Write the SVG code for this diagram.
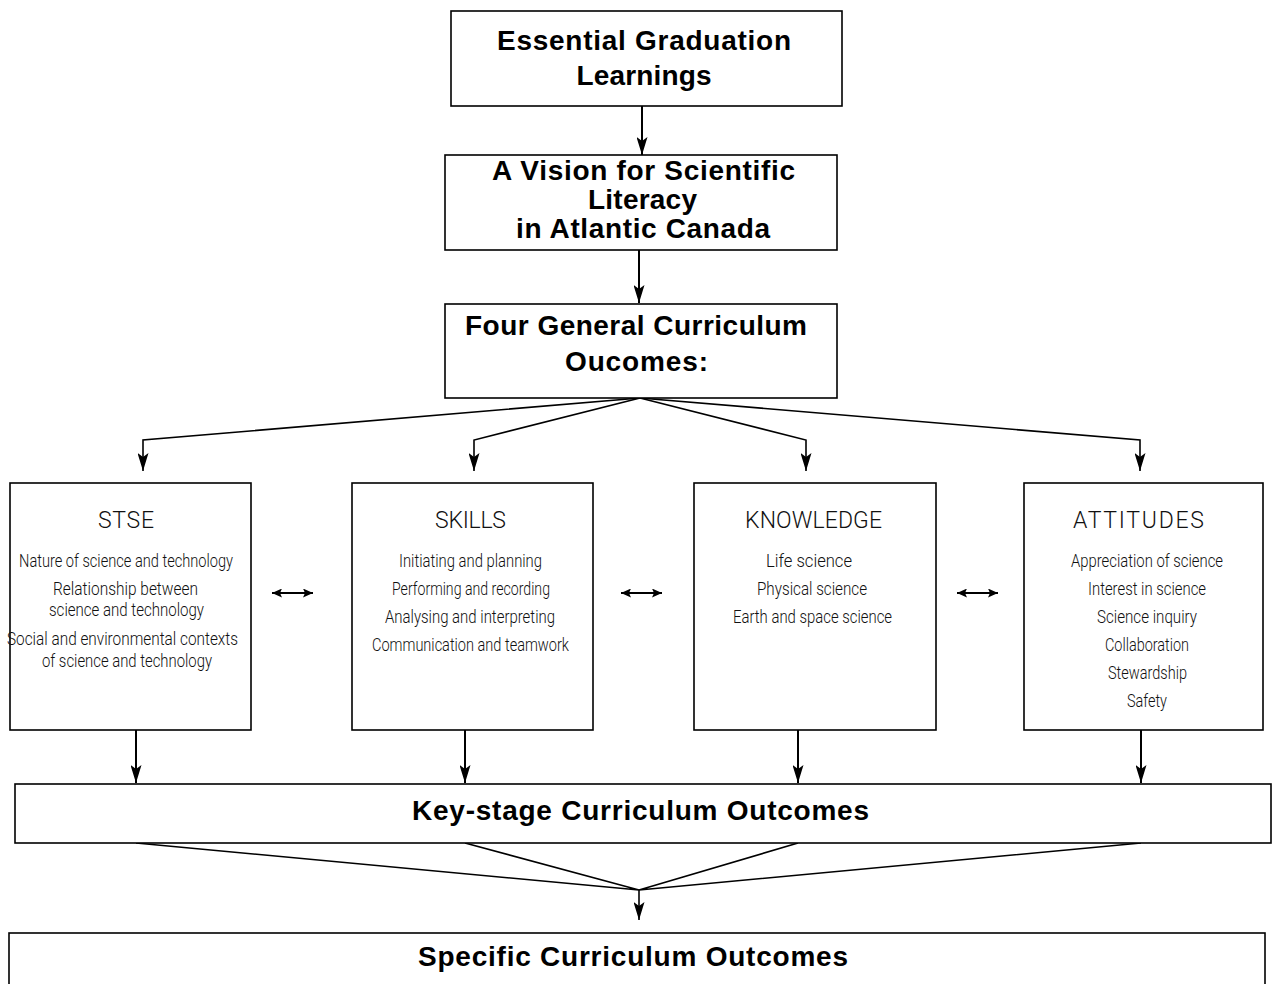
<svg xmlns="http://www.w3.org/2000/svg" width="1272" height="984" viewBox="0 0 1272 984">
<style>
.box{fill:#fff;stroke:#000;stroke-width:1.6}
.ln{fill:none;stroke:#000;stroke-width:1.6}
.va{fill:none;stroke:#000;stroke-width:2}
.h{font-family:"Liberation Sans",Arial,sans-serif;font-weight:bold;font-size:28px;text-anchor:middle;fill:#000}
.t{font-family:Roboto,"Liberation Sans",sans-serif;font-weight:300;font-size:23px;text-anchor:middle;fill:#111}
.i{font-family:Roboto,"Liberation Sans",sans-serif;font-weight:300;font-size:19px;text-anchor:middle;fill:#111}
</style>
<defs>
<marker id="ah" viewBox="0 0 18 11" refX="18" refY="5.5" markerWidth="18" markerHeight="11" markerUnits="userSpaceOnUse" orient="auto">
<path d="M0,0 L18,5.5 L0,11 L4,5.5 Z" fill="#000"/>
</marker>
<marker id="sh" viewBox="0 0 10 9" refX="10" refY="4.5" markerWidth="10" markerHeight="9" markerUnits="userSpaceOnUse" orient="auto-start-reverse">
<path d="M0,0 L10,4.5 L0,9 L2,4.5 Z" fill="#000"/>
</marker>
</defs>
<g id="connectors">
<line class="va" x1="642" y1="106" x2="642" y2="155" marker-end="url(#ah)"/>
<line class="va" x1="639" y1="250" x2="639" y2="303" marker-end="url(#ah)"/>
<polyline class="ln" points="640,398 143,440 143,471" marker-end="url(#ah)"/>
<polyline class="ln" points="640,398 474,440 474,471" marker-end="url(#ah)"/>
<polyline class="ln" points="640,398 806,440 806,471" marker-end="url(#ah)"/>
<polyline class="ln" points="640,398 1140,440 1140,471" marker-end="url(#ah)"/>
<line class="va" x1="136" y1="730" x2="136" y2="783" marker-end="url(#ah)"/>
<line class="va" x1="465" y1="730" x2="465" y2="783" marker-end="url(#ah)"/>
<line class="va" x1="798" y1="730" x2="798" y2="783" marker-end="url(#ah)"/>
<line class="va" x1="1141" y1="730" x2="1141" y2="783" marker-end="url(#ah)"/>
<polyline class="ln" points="136,843 639,890 465,843"/>
<polyline class="ln" points="798,843 639,890 1141,843"/>
<line class="ln" x1="639" y1="890" x2="639" y2="920" marker-end="url(#ah)"/>
<line class="va" x1="272" y1="593" x2="313" y2="593" marker-start="url(#sh)" marker-end="url(#sh)"/>
<line class="va" x1="621" y1="593" x2="662" y2="593" marker-start="url(#sh)" marker-end="url(#sh)"/>
<line class="va" x1="957" y1="593" x2="998" y2="593" marker-start="url(#sh)" marker-end="url(#sh)"/>
</g>
<g id="egl">
<rect class="box" x="451" y="11" width="391" height="95"/>
<text class="h" x="644" y="50" textLength="294" lengthAdjust="spacing">Essential Graduation</text>
<text class="h" x="644" y="85" textLength="135" lengthAdjust="spacing">Learnings</text>
</g>
<g id="vision">
<rect class="box" x="445" y="155" width="392" height="95"/>
<text class="h" x="643.5" y="180" textLength="303" lengthAdjust="spacing">A Vision for Scientific</text>
<text class="h" x="642.5" y="209" textLength="109" lengthAdjust="spacing">Literacy</text>
<text class="h" x="643" y="238" textLength="254" lengthAdjust="spacing">in Atlantic Canada</text>
</g>
<g id="gco">
<rect class="box" x="445" y="304" width="392" height="94"/>
<text class="h" x="636" y="335" textLength="342" lengthAdjust="spacing">Four General Curriculum</text>
<text class="h" x="636.5" y="371" textLength="143" lengthAdjust="spacing">Oucomes:</text>
</g>
<g id="stse">
<rect class="box" x="10" y="483" width="241" height="247"/>
<text class="t" x="126" y="528" textLength="56" lengthAdjust="spacing">STSE</text>
<text class="i" x="126" y="567" textLength="214" lengthAdjust="spacingAndGlyphs">Nature of science and technology</text>
<text class="i" x="125.5" y="595" textLength="145" lengthAdjust="spacingAndGlyphs">Relationship between</text>
<text class="i" x="126.5" y="616" textLength="155" lengthAdjust="spacingAndGlyphs">science and technology</text>
<text class="i" x="122.5" y="645" textLength="231" lengthAdjust="spacingAndGlyphs">Social and environmental contexts</text>
<text class="i" x="127" y="667" textLength="170" lengthAdjust="spacingAndGlyphs">of science and technology</text>
</g>
<g id="skills">
<rect class="box" x="352" y="483" width="241" height="247"/>
<text class="t" x="470.5" y="528" textLength="71" lengthAdjust="spacing">SKILLS</text>
<text class="i" x="470.5" y="567" textLength="143" lengthAdjust="spacingAndGlyphs">Initiating and planning</text>
<text class="i" x="471" y="595" textLength="158" lengthAdjust="spacingAndGlyphs">Performing and recording</text>
<text class="i" x="470" y="623" textLength="170" lengthAdjust="spacingAndGlyphs">Analysing and interpreting</text>
<text class="i" x="470.5" y="651" textLength="197" lengthAdjust="spacingAndGlyphs">Communication and teamwork</text>
</g>
<g id="knowledge">
<rect class="box" x="694" y="483" width="242" height="247"/>
<text class="t" x="813.5" y="528" textLength="137" lengthAdjust="spacing">KNOWLEDGE</text>
<text class="i" x="809" y="567" textLength="86" lengthAdjust="spacingAndGlyphs">Life science</text>
<text class="i" x="812" y="595" textLength="110" lengthAdjust="spacingAndGlyphs">Physical science</text>
<text class="i" x="812.5" y="623" textLength="159" lengthAdjust="spacingAndGlyphs">Earth and space science</text>
</g>
<g id="attitudes">
<rect class="box" x="1024" y="483" width="239" height="247"/>
<text class="t" x="1138.5" y="528" textLength="131" lengthAdjust="spacing">ATTITUDES</text>
<text class="i" x="1147" y="567" textLength="152" lengthAdjust="spacingAndGlyphs">Appreciation of science</text>
<text class="i" x="1147" y="595" textLength="118" lengthAdjust="spacingAndGlyphs">Interest in science</text>
<text class="i" x="1147" y="623" textLength="100" lengthAdjust="spacingAndGlyphs">Science inquiry</text>
<text class="i" x="1147" y="651" textLength="84" lengthAdjust="spacingAndGlyphs">Collaboration</text>
<text class="i" x="1147.5" y="679" textLength="79" lengthAdjust="spacingAndGlyphs">Stewardship</text>
<text class="i" x="1147" y="707" textLength="40" lengthAdjust="spacingAndGlyphs">Safety</text>
</g>
<g id="keystage">
<rect class="box" x="15" y="784" width="1256" height="59"/>
<text class="h" x="640.5" y="820" textLength="457" lengthAdjust="spacing">Key-stage Curriculum Outcomes</text>
</g>
<g id="specific">
<rect class="box" x="9" y="933" width="1256" height="60"/>
<text class="h" x="633" y="966" textLength="430" lengthAdjust="spacing">Specific Curriculum Outcomes</text>
</g>
</svg>
